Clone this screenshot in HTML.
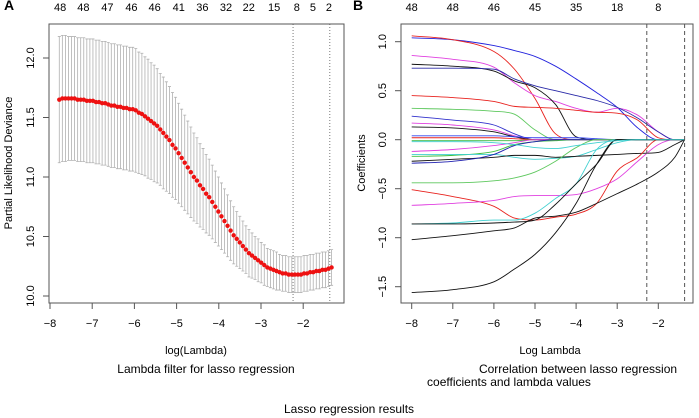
<!DOCTYPE html>
<html><head><meta charset="utf-8"><style>
body{margin:0;background:#fff}
svg{display:block;font-family:"Liberation Sans",Arial,sans-serif}
</style></head><body>
<svg id="c" width="699" height="418" viewBox="0 0 699 418"></svg>
<script>
// ---- Panel A data ----
const aStart=-7.78, aStep=0.0725;
const aMean=[11.65,11.66,11.66,11.66,11.66,11.66,11.65,11.65,11.65,11.64,11.64,11.64,11.63,11.63,11.62,11.62,11.61,11.60,11.60,11.59,11.59,11.58,11.58,11.57,11.57,
11.56,11.54,11.53,11.51,11.49,11.47,11.45,11.43,11.40,11.37,11.34,11.31,11.27,11.24,11.20,11.16,11.12,11.08,11.04,11.00,
10.97,10.93,10.90,10.86,10.83,10.79,10.75,10.71,10.67,10.63,10.59,10.55,10.51,10.48,10.45,10.42,10.39,10.36,10.34,10.32,
10.30,10.28,10.26,10.24,10.23,10.22,10.21,10.20,10.19,10.19,10.18,10.18,10.18,10.18,10.18,10.19,10.19,10.20,10.20,10.21,10.21,10.22,10.22,10.23,10.24];
const aSd=[0.53,0.53,0.53,0.52,0.52,0.52,0.52,0.52,0.52,0.52,0.52,0.52,0.52,0.52,0.52,0.52,0.52,0.52,0.52,0.52,0.52,0.52,0.52,0.52,0.52,
0.52,0.51,0.51,0.50,0.50,0.49,0.49,0.48,0.47,0.47,0.46,0.45,0.44,0.43,0.42,0.41,0.40,0.39,0.38,0.37,
0.36,0.35,0.34,0.33,0.32,0.31,0.30,0.29,0.28,0.27,0.26,0.25,0.24,0.23,0.22,0.21,0.20,0.20,0.19,0.18,
0.18,0.17,0.17,0.16,0.16,0.16,0.16,0.15,0.15,0.15,0.15,0.15,0.15,0.15,0.15,0.15,0.15,0.15,0.15,0.15,0.15,0.15,0.15,0.15,0.15];
const aXTicks=[-8,-7,-6,-5,-4,-3,-2];
const aYTicks=[10.0,10.5,11.0,11.5,12.0];
const aTopLabels=["48","48","47","46","46","41","36","32","22","15","8","5","2"];
const aTopPos=[-7.76,-7.21,-6.64,-6.07,-5.52,-4.95,-4.39,-3.83,-3.29,-2.69,-2.15,-1.77,-1.39];
const aVLines=[-2.24,-1.37];
// ---- Panel B data ----
const bKnots=[-8,-7,-6,-5.5,-5,-4.5,-4,-3.5,-3,-2.5,-2,-1.6,-1.36];
const bColors=["#2222dd","#e8231f","#e040e0","#111111","#2a2aa8","#e8231f","#5ec85e","#3333cc","#e040e0","#111111","#e8231f","#3344ee","#3fb83f","#e040e0","#3fbf3f","#40d0d0","#111111","#2020b0","#5ec85e","#e8231f","#e040e0","#40d0d0","#111111","#111111","#111111","#40d0d0"];
const bPaths=[
[1.04,1.02,0.96,0.91,0.85,0.75,0.62,0.48,0.33,0.12,0,0,0],
[1.06,1.02,0.90,0.72,0.42,0.06,0,0,0,0,0,0,0],
[0.86,0.82,0.74,0.58,0.45,0.39,0.32,0.28,0.32,0.25,0.08,0,0],
[0.77,0.75,0.70,0.60,0.53,0.36,0.03,0,0,0,0,0,0],
[0.73,0.73,0.72,0.62,0.55,0.50,0.45,0.40,0.33,0.22,0.08,0,0],
[0.45,0.43,0.39,0.34,0.33,0.32,0.30,0.28,0.27,0.20,0.02,0,0],
[0.32,0.31,0.29,0.26,0.10,0,0,0,0,0,0,0,0],
[0.24,0.20,0.15,0.06,0,0,0,0,0,0,0,0,0],
[0.17,0.15,0.10,0.04,0,0,0,0,0,0,0,0,0],
[0.13,0.12,0.08,0.03,0,0,0,0,0,0,0,0,0],
[0.02,0.02,0.02,0.01,0,0,0,0,0,0,0,0,0],
[0.04,0.04,0.04,0.03,0.02,0.02,0.02,0.01,0,0,0,0,0],
[-0.01,-0.01,-0.01,-0.01,0,0,0,0,0,0,0,0,0],
[-0.12,-0.10,-0.06,-0.03,0,0,0,0,0,0,0,0,0],
[-0.17,-0.16,-0.12,-0.05,-0.02,-0.01,0,0,0,0,0,0,0],
[-0.15,-0.15,-0.15,-0.18,-0.20,-0.19,-0.17,-0.10,-0.03,0,0,0,0],
[-0.22,-0.20,-0.18,-0.16,-0.16,-0.18,-0.17,-0.16,-0.15,-0.14,-0.13,-0.05,0],
[-0.24,-0.22,-0.15,-0.06,-0.02,0,0,0,0,0,0,0,0],
[-0.44,-0.44,-0.42,-0.39,-0.33,-0.22,-0.08,0,0,0,0,0,0],
[-0.51,-0.58,-0.68,-0.80,-0.82,-0.79,-0.76,-0.65,-0.32,-0.18,0,0,0],
[-0.67,-0.65,-0.62,-0.58,-0.57,-0.57,-0.56,-0.50,-0.40,-0.22,-0.05,0,0],
[-0.86,-0.85,-0.82,-0.82,-0.75,-0.60,-0.45,-0.10,0,0,0,0,0],
[-0.86,-0.86,-0.85,-0.84,-0.82,-0.66,-0.45,-0.25,0,0,0,0,0],
[-1.02,-0.98,-0.93,-0.90,-0.80,-0.78,-0.74,-0.65,-0.55,-0.45,-0.33,-0.18,0],
[-1.56,-1.53,-1.45,-1.32,-1.17,-0.95,-0.65,-0.25,0,0,0,0,0],
[-0.02,-0.02,-0.03,-0.05,-0.08,-0.09,-0.06,-0.03,-0.01,0,0,0,0]
];
const bXTicks=[-8,-7,-6,-5,-4,-3,-2];
const bYTicks=[-1.5,-1.0,-0.5,0.0,0.5,1.0];
const bTopLabels=["48","48","46","45","35","18","8"];
const bTopPos=[-8,-7,-6,-5,-4,-3,-2];
const bVLines=[-2.28,-1.36];

const NS="http://www.w3.org/2000/svg";
const svg=document.getElementById('c');
function el(tag,attrs,parent,txt){const e=document.createElementNS(NS,tag);for(const k in attrs)e.setAttribute(k,attrs[k]);if(txt!==undefined)e.textContent=txt;(parent||svg).appendChild(e);return e;}

const axA={x:v=>50+(v+8)*42.2, y:v=>58+(12-v)*119};
const axB={x:v=>411.7+(v+8)*41.1, y:v=>139.7-v*98};

function frame(L,T,R,B,name){const r=el('rect',{x:L,y:T,width:R-L,height:B-T,fill:'none',stroke:'#555','stroke-width':1});

}

// ---------- Panel A ----------
const gA=el('g',{});


frame(49,24,344,303,'panel-a-frame');
aVLines.forEach(v=>{const l=el('line',{x1:axA.x(v),x2:axA.x(v),y1:24,y2:303,stroke:'#777','stroke-dasharray':'1,2','stroke-width':1},gA);

});
aMean.forEach((m,i)=>{const x=axA.x(aStart+i*aStep);const up=axA.y(m+aSd[i]),lo=axA.y(m-aSd[i]);
const e=el('path',{d:`M${x},${up}V${lo}M${x-1.5},${up}H${x+1.5}M${x-1.5},${lo}H${x+1.5}`,stroke:'#b0b0b0','stroke-width':0.8,fill:'none'},gA);

});
aMean.forEach((m,i)=>{const c=el('circle',{cx:axA.x(aStart+i*aStep),cy:axA.y(m),r:2.2,fill:'#ee1111'},gA);

});
aXTicks.forEach(v=>{const x=axA.x(v);el('line',{x1:x,x2:x,y1:303,y2:309,stroke:'#555'},gA);
const t=el('text',{x:x,y:327,'font-size':11,'text-anchor':'middle'},gA,'\u2212'+Math.abs(v));

});
aYTicks.forEach(v=>{const y=axA.y(v);el('line',{x1:43,x2:49,y1:y,y2:y,stroke:'#555'},gA);
const t=el('text',{x:34,y:y,'font-size':11,'text-anchor':'middle',transform:`rotate(-90 34 ${y})`},gA,v.toFixed(1));

});
aTopLabels.forEach((s,i)=>{const t=el('text',{x:axA.x(aTopPos[i]),y:11,'font-size':11,'text-anchor':'middle'},gA,s);

});

// ---------- Panel B ----------
const gB=el('g',{});


frame(401,24,693,303,'panel-b-frame');
// monotone cubic (Fritsch-Carlson) path through points
function monotone(pts){const n=pts.length,d=[],m=[];
for(let i=0;i<n-1;i++)d.push((pts[i+1][1]-pts[i][1])/(pts[i+1][0]-pts[i][0]));
m[0]=d[0];m[n-1]=d[n-2];
for(let i=1;i<n-1;i++){m[i]=(d[i-1]*d[i]<=0)?0:(d[i-1]+d[i])/2;}
for(let i=0;i<n-1;i++){if(d[i]===0){m[i]=0;m[i+1]=0;continue;}const a=m[i]/d[i],b=m[i+1]/d[i],s=a*a+b*b;if(s>9){const t=3/Math.sqrt(s);m[i]=t*a*d[i];m[i+1]=t*b*d[i];}}
let p=`M${pts[0][0]},${pts[0][1]}`;
for(let i=0;i<n-1;i++){const h=(pts[i+1][0]-pts[i][0])/3;
p+=`C${pts[i][0]+h},${pts[i][1]+m[i]*h} ${pts[i+1][0]-h},${pts[i+1][1]-m[i+1]*h} ${pts[i+1][0]},${pts[i+1][1]}`;}
return p;}
bPaths.forEach((vals,k)=>{const pts=vals.map((v,i)=>[axB.x(bKnots[i]),axB.y(v)]);
const p=el('path',{d:monotone(pts),fill:'none',stroke:bColors[k%bColors.length],'stroke-width':0.9},gB);

});
bVLines.forEach(v=>{const l=el('line',{x1:axB.x(v),x2:axB.x(v),y1:24,y2:303,stroke:'#555','stroke-dasharray':'4,3','stroke-width':1},gB);

});
bXTicks.forEach(v=>{const x=axB.x(v);el('line',{x1:x,x2:x,y1:303,y2:309,stroke:'#555'},gB);
const t=el('text',{x:x,y:327,'font-size':11,'text-anchor':'middle'},gB,'\u2212'+Math.abs(v));

});
bYTicks.forEach(v=>{const y=axB.y(v);el('line',{x1:395,x2:401,y1:y,y2:y,stroke:'#555'},gB);
const s=(v<0?'\u2212':'')+Math.abs(v).toFixed(1);
const t=el('text',{x:386,y:y,'font-size':11,'text-anchor':'middle',transform:`rotate(-90 386 ${y})`},gB,s);

});
bTopLabels.forEach((s,i)=>{const t=el('text',{x:axB.x(bTopPos[i]),y:11,'font-size':11,'text-anchor':'middle'},gB,s);

});

// ---------- Texts ----------
function txt(x,y,s,size,name,extra){const t=el('text',Object.assign({x:x,y:y,'font-size':size,'text-anchor':'middle'},extra||{}),svg,s);

}
txt(9,10,'A',14,'panel-a-label',{'font-weight':'bold'});
txt(358,10,'B',14,'panel-b-label',{'font-weight':'bold'});
txt(12,163,'Partial Likelihood Deviance',11,'y-axis-title-a',{transform:'rotate(-90 12 163)'});
txt(365,163,'Coefficients',11,'y-axis-title-b',{transform:'rotate(-90 365 163)'});
txt(196,354,'log(Lambda)',11,'x-axis-title-a');
txt(550,354,'Log Lambda',11,'x-axis-title-b');
txt(206,373,'Lambda filter for lasso regression',12,'caption-a');
txt(578,373,'Correlation between lasso regression',12,'caption-b-line1');
txt(509,386,'coefficients and lambda values',12,'caption-b-line2');
txt(349,413,'Lasso regression results',12,'figure-caption');
</script>
</body></html>
